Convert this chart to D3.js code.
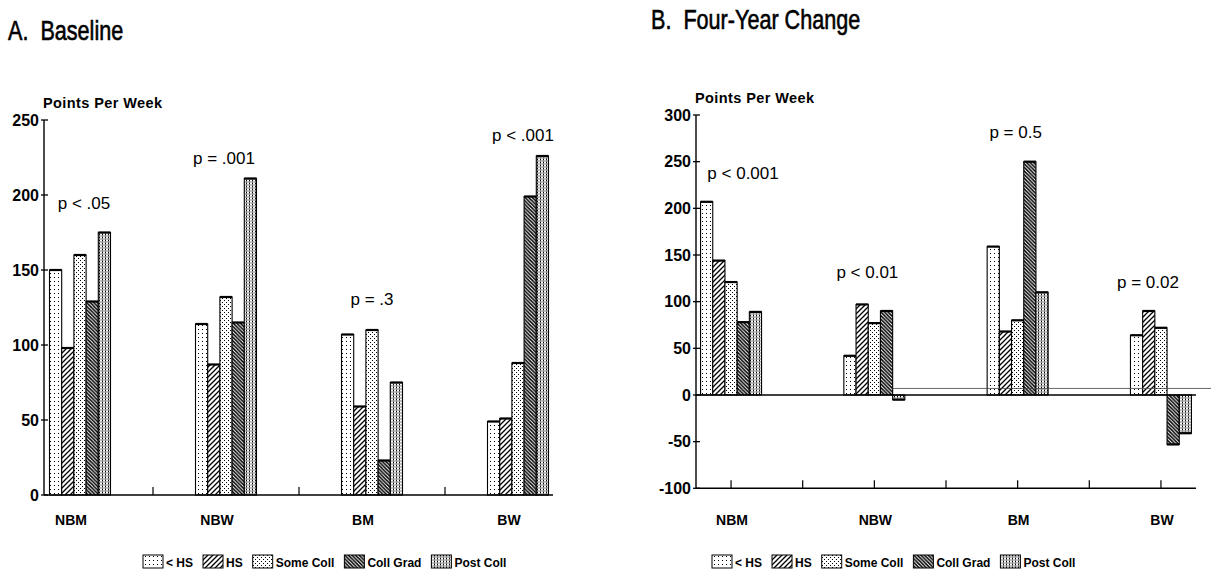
<!DOCTYPE html>
<html>
<head>
<meta charset="utf-8">
<script src="https://cdn.jsdelivr.net/npm/d3@7"></script>
<style>
  body { margin: 0; background: #fff; }
  svg { display: block; }
  text { font-family: "Liberation Sans", Arial, Helvetica, sans-serif; fill: #000; }
</style>
</head>
<body>
<svg id="chart" width="1211" height="584"></svg>
<script>
// ---- Data -------------------------------------------------------------
const groups = ["NBM", "NBW", "BM", "BW"];
const educationLevels = ["< HS", "HS", "Some Coll", "Coll Grad", "Post Coll"];

// Baseline physical activity (points per week), one array per education level
const baselineLtHS     = [150, 114, 107, 49];
const baselineHS       = [98, 87, 59, 51];
const baselineSomeColl = [160, 132, 110, 88];
const baselineCollGrad = [129, 115, 23, 199];
const baselinePostColl = [175, 211, 75, 226];

// Four-year change (points per week)
const changeLtHS     = [207, 42, 159, 64];
const changeHS       = [144, 97, 68, 90];
const changeSomeColl = [121, 77, 80, 72];
const changeCollGrad = [78, 90, 250, -53];
const changePostColl = [89, -5, 110, -41];

// Significance labels per group
const baselinePValues = ["p < .05", "p = .001", "p = .3", "p < .001"];
const changePValues   = ["p < 0.001", "p < 0.01", "p = 0.5", "p = 0.02"];

// Axis ticks
const baselineTicks = [0, 50, 100, 150, 200, 250];
const changeTicks   = [-100, -50, 0, 50, 100, 150, 200, 250, 300];

// ---- Helpers ------------------------------------------------------------
const svg = d3.select("#chart");
const defs = svg.append("defs");

// Fill patterns, one per education level
function dotPattern(id, w, h, dots, r) {
  const p = defs.append("pattern").attr("id", id).attr("patternUnits", "userSpaceOnUse")
    .attr("width", w).attr("height", h);
  p.append("rect").attr("width", w).attr("height", h).attr("fill", "#fff");
  dots.forEach(([x, y]) => p.append("rect").attr("x", x).attr("y", y)
    .attr("width", r).attr("height", r).attr("fill", "#000"));
}
function hatchPattern(id, size, dir, sw) {
  const p = defs.append("pattern").attr("id", id).attr("patternUnits", "userSpaceOnUse")
    .attr("width", size).attr("height", size);
  p.append("rect").attr("width", size).attr("height", size).attr("fill", "#fff");
  const d = dir > 0
    ? `M0,${size} L${size},0 M${-size / 2},${size / 2} L${size / 2},${-size / 2} M${size / 2},${size * 1.5} L${size * 1.5},${size / 2}`
    : `M0,0 L${size},${size} M${-size / 2},${size / 2} L${size / 2},${size * 1.5} M${size / 2},${-size / 2} L${size * 1.5},${size / 2}`;
  p.append("path").attr("d", d).attr("stroke", "#000").attr("stroke-width", sw);
}
dotPattern("pat-lths", 4, 4, [[2, 1]], 1);
hatchPattern("pat-hs", 5, 1, 1.3);
dotPattern("pat-some", 4, 4, [[0, 0], [2, 2]], 1);
hatchPattern("pat-grad", 3.6, -1, 1.5);
dotPattern("pat-post", 3, 3, [[0, 0], [1.5, 1.5], [0, 1.5]], 1);
const fills = ["url(#pat-lths)", "url(#pat-hs)", "url(#pat-some)", "url(#pat-grad)", "url(#pat-post)"];

function drawPanel(cfg) {
  const g = svg.append("g");
  const x = d3.scaleBand().domain(groups).range(cfg.xRange).padding(0);
  const y = d3.scaleLinear().domain(cfg.yDomain).range(cfg.yRange);
  const inner = d3.scaleBand().domain(educationLevels).range([0, 61]);

  // Bars
  const rows = [];
  groups.forEach((grp, gi) => {
    educationLevels.forEach((lvl, li) => {
      rows.push({ grp, lvl, li, v: cfg.series[li][gi] });
    });
  });
  const bx = d => x(d.grp) + x.bandwidth() / 2 - 30.5 + inner(d.lvl);
  const bars = g.append("g").selectAll("g").data(rows).join("g");
  bars.append("rect")
    .attr("x", bx)
    .attr("y", d => y(Math.max(0, d.v)))
    .attr("width", inner.bandwidth())
    .attr("height", d => Math.abs(y(d.v) - y(0)))
    .attr("fill", d => fills[d.li])
    .attr("stroke", "#000").attr("stroke-width", 1.1);
  bars.append("line")
    .attr("x1", bx).attr("x2", d => bx(d) + inner.bandwidth())
    .attr("y1", d => y(d.v)).attr("y2", d => y(d.v))
    .attr("stroke", "#000").attr("stroke-width", 2.2);

  // Y axis
  const axisX = cfg.axisX;
  g.append("line").attr("x1", axisX).attr("x2", axisX)
    .attr("y1", y(cfg.yDomain[1])).attr("y2", y(cfg.yDomain[0]))
    .attr("stroke", "#000").attr("stroke-width", 1.4);
  const ticks = g.append("g").selectAll("g").data(cfg.ticks).join("g");
  ticks.append("line").attr("x1", axisX - 3).attr("x2", axisX + 4)
    .attr("y1", d => y(d)).attr("y2", d => y(d)).attr("stroke", "#000").attr("stroke-width", 1.3);
  ticks.append("text").attr("x", axisX - 5).attr("y", d => y(d)).attr("dy", "0.36em")
    .attr("text-anchor", "end").attr("font-size", 16).attr("font-weight", "bold")
    .text(d => d < 0 ? "-" + Math.abs(d) : d);
  g.append("text").attr("x", axisX - 1).attr("y", y(cfg.yDomain[1]) - 12)
    .attr("font-size", 14.5).attr("font-weight", "bold").attr("letter-spacing", 0.4)
    .text("Points Per Week");

  // Zero baseline and lower axis
  const xEnd = x(groups[groups.length - 1]) + x.bandwidth() / 2 + 35;
  g.append("line").attr("x1", axisX).attr("x2", xEnd).attr("y1", y(0)).attr("y2", y(0))
    .attr("stroke", "#000").attr("stroke-width", 1.6);
  const yBottom = y(cfg.yDomain[0]);
  if (cfg.yDomain[0] < 0) {
    g.append("line").attr("x1", axisX).attr("x2", xEnd).attr("y1", yBottom).attr("y2", yBottom)
      .attr("stroke", "#000").attr("stroke-width", 1.6);
  }
  g.append("g").selectAll("line").data(cfg.xTicks(x)).join("line")
    .attr("x1", d => d).attr("x2", d => d).attr("y1", yBottom).attr("y2", yBottom - 8)
    .attr("stroke", "#000").attr("stroke-width", 1.2);

  // Category labels
  g.append("g").selectAll("text").data(groups).join("text")
    .attr("x", d => x(d) + x.bandwidth() / 2 + cfg.labelShift)
    .attr("y", 525).attr("text-anchor", "middle")
    .attr("font-size", 14).attr("font-weight", "bold").text(d => d);

  // Significance labels
  g.append("g").selectAll("text").data(cfg.pLabels).join("text")
    .attr("x", (d, i) => x(groups[i]) + x.bandwidth() / 2 + cfg.pPlace[i][0])
    .attr("y", (d, i) => y(cfg.pPlace[i][1]))
    .attr("text-anchor", "middle").attr("font-size", 17).text(d => d);

  // Title (condensed, heavy)
  svg.append("text")
    .attr("transform", `translate(${cfg.titleX},${cfg.titleY}) scale(0.8,1)`)
    .attr("font-size", 27).attr("stroke", "#000").attr("stroke-width", 0.6)
    .attr("xml:space", "preserve").style("white-space", "pre").text(cfg.title);

  // Legend
  const lg = svg.append("g").attr("transform", `translate(${cfg.legendX},555)`);
  let cx = 0;
  educationLevels.forEach((lvl, i) => {
    lg.append("rect").attr("x", cx).attr("y", 0).attr("width", 20).attr("height", 13)
      .attr("fill", fills[i]).attr("stroke", "#000").attr("stroke-width", 1);
    const t = lg.append("text").attr("x", cx + 23).attr("y", 12)
      .attr("font-size", 12).attr("font-weight", "bold").text(lvl);
    cx += 23 + t.node().getComputedTextLength() + 10;
  });
  return { x, y };
}

// Panel A: baseline
drawPanel({
  series: [baselineLtHS, baselineHS, baselineSomeColl, baselineCollGrad, baselinePostColl],
  xRange: [7, 591], yDomain: [0, 250], yRange: [495, 120],
  axisX: 44, ticks: baselineTicks,
  xTicks: x => groups.slice(1).map(g => x(g)),
  labelShift: -9,
  pLabels: baselinePValues,
  pPlace: [[4, 191], [-2, 221], [0, 127], [5, 236]],
  title: "A.  Baseline", titleX: 8, titleY: 40,
  legendX: 143
});

// Panel B: four-year change
const panelB = drawPanel({
  series: [changeLtHS, changeHS, changeSomeColl, changeCollGrad, changePostColl],
  xRange: [659.4, 1232.6], yDomain: [-100, 300], yRange: [488.3, 115],
  axisX: 696, ticks: changeTicks,
  xTicks: x => groups.flatMap((g, i) => i < groups.length - 1
    ? [x(g) + x.bandwidth() / 2, x(g) + x.bandwidth()] : [x(g) + x.bandwidth() / 2]),
  labelShift: 1,
  pLabels: changePValues,
  pPlace: [[12, 231], [-7, 125], [-2, 275], [-13, 115]],
  title: "B.  Four-Year Change", titleX: 651, titleY: 29,
  legendX: 712
});

// Faint reference rule just above zero on the right of panel B
svg.append("line")
  .attr("x1", panelB.x("NBW") + panelB.x.bandwidth() / 2 + 18).attr("x2", 1211)
  .attr("y1", panelB.y(7)).attr("y2", panelB.y(7))
  .attr("stroke", "#444").attr("stroke-width", 0.8);
</script>
</body>
</html>
